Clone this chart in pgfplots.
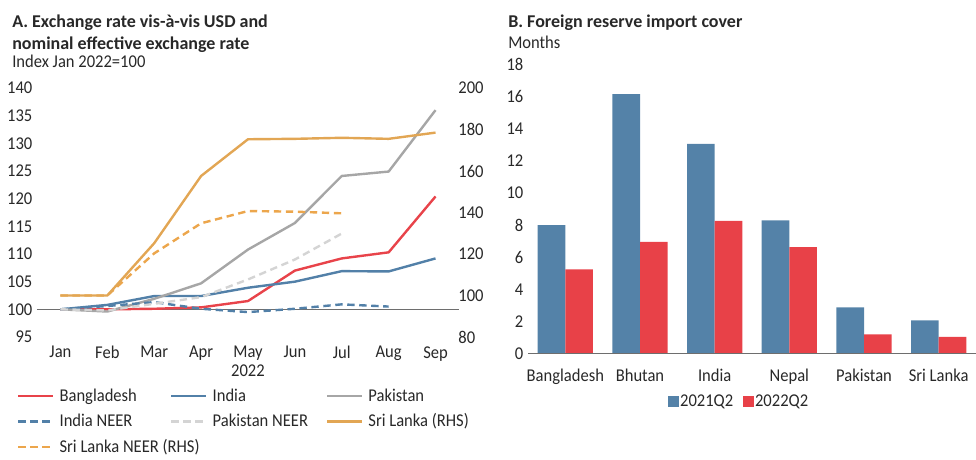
\documentclass[border=0pt]{standalone}
\usepackage{fontspec}
\setmainfont{Carlito}[FakeStretch=0.92]
\newfontfamily\titlefont{Carlito}
\usepackage{pgfplots}
\pgfplotsset{compat=1.18}

\definecolor{txt}{RGB}{40,40,40}
\definecolor{axgray}{RGB}{110,110,110}
\definecolor{bdred}{RGB}{232,67,74}
\definecolor{inblue}{RGB}{82,128,168}
\definecolor{pkgray}{RGB}{166,166,166}
\definecolor{pkneer}{RGB}{212,212,212}
\definecolor{slorange}{RGB}{226,166,84}
\definecolor{slneer}{RGB}{236,166,76}
\definecolor{barblue}{RGB}{84,130,168}
\definecolor{barred}{RGB}{232,65,72}

\newcommand\tk{\fontsize{13.5pt}{15pt}\selectfont}
\newcommand\ttl{\titlefont\fontsize{13.5pt}{15pt}\selectfont\bfseries}

\pgfplotsset{
  panel/.style={
    scale only axis,
    anchor=south west,
    axis line style={draw=none},
    major tick length=0pt,
    tick label style={font=\tk, text=txt},
    label style={font=\tk, text=txt},
    xticklabel style={yshift=-3.5pt},
    /pgf/number format/assume math mode=true,
  },
  ln/.style={line width=1.8pt, line join=round},
  dsh/.style={line width=1.8pt, dash pattern=on 5.5pt off 3.5pt},
}

\begin{document}
\begin{tikzpicture}
\path[use as bounding box] (0,0) rectangle (732pt,345pt);

% panel A titles
\node[anchor=base west, font=\ttl, text=txt, inner sep=0pt] at (9pt,324pt) {A. Exchange rate vis-à-vis USD and};
\node[anchor=base west, font=\ttl, text=txt, inner sep=0pt] at (9pt,307.5pt) {nominal effective exchange rate};
\node[anchor=base west, font=\tk, text=txt, inner sep=0pt] at (9pt,294pt) {Index Jan 2022=100};

% panel B titles
\node[anchor=base west, font=\ttl, text=txt, inner sep=0pt] at (381pt,324.5pt) {B. Foreign reserve import cover};
\node[anchor=base west, font=\tk, text=txt, inner sep=0pt] at (381pt,308.25pt) {Months};

% panel A, left scale
\begin{axis}[
  panel,
  at={(27.75pt,92.25pt)},
  width=316.5pt, height=186.75pt,
  xmin=-0.5, xmax=8.5, ymin=95, ymax=140,
  xtick={0,...,8},
  xticklabels={Jan,Feb,Mar,Apr,May,Jun,Jul,Aug,Sep},
  ytick={95,100,...,140},
  xlabel={2022},
  xlabel style={yshift=4pt},
  legend columns=3,
  legend cell align=left,
  legend style={at={(-0.057,-0.19)}, anchor=north west, draw=none, fill=none,
    font=\tk, text=txt, row sep=6pt, column sep=0pt,
    nodes={inner sep=1pt}},
  legend image code/.code={\draw[#1] (0pt,0pt) -- (26pt,0pt);},
  /tikz/every odd column/.append style={column sep=3pt},
]
\draw[axgray, line width=0.8pt] (axis cs:-0.5,100) -- (axis cs:8.5,100);
\addplot[ln, bdred] coordinates {(0,100)(1,100.0)(2,100.1)(3,100.35)(4,101.5)(5,107.0)(6,109.2)(7,110.3)(8,120.4)};
\addlegendentry{\makebox[82pt][l]{Bangladesh}}
\addplot[ln, inblue] coordinates {(0,100)(1,100.8)(2,102.4)(3,102.4)(4,103.9)(5,105.0)(6,106.9)(7,106.85)(8,109.2)};
\addlegendentry{\makebox[84pt][l]{India}}
\addplot[ln, pkgray] coordinates {(0,100)(1,99.6)(2,101.9)(3,104.7)(4,110.8)(5,115.6)(6,124.1)(7,124.9)(8,136.0)};
\addlegendentry{Pakistan}
\addplot[dsh, inblue] coordinates {(0,100)(1,100.6)(2,101.3)(3,100.1)(4,99.5)(5,100.1)(6,100.9)(7,100.5)};
\addlegendentry{\makebox[82pt][l]{India NEER}}
\addplot[dsh, pkneer] coordinates {(0,100)(1,99.8)(2,101.0)(3,102.2)(4,105.4)(5,109.0)(6,113.7)};
\addlegendentry{\makebox[84pt][l]{Pakistan NEER}}
\addlegendimage{ln, slorange}
\addlegendentry{Sri Lanka (RHS)}
\addlegendimage{dsh, slneer}
\addlegendentry{\makebox[82pt][l]{Sri Lanka NEER (RHS)}}
\end{axis}

% panel A, right scale
\begin{axis}[
  panel,
  at={(27.75pt,92.25pt)},
  width=316.5pt, height=186.75pt,
  xmin=-0.5, xmax=8.5, ymin=80, ymax=200,
  axis x line=none,
  axis y line*=right,
  ytick={80,100,...,200},
  yticklabel style={anchor=west, xshift=-4pt},
]
\addplot[dsh, slneer] coordinates {(0,100)(1,100)(2,120.3)(3,134.8)(4,140.7)(5,140.4)(6,139.6)};
\addplot[ln, slorange] coordinates {(0,100)(1,100)(2,125.2)(3,157.6)(4,175.3)(5,175.5)(6,176.0)(7,175.5)(8,178.5)};
\end{axis}

% panel B
\begin{axis}[
  panel,
  at={(396pt,79.5pt)},
  width=336pt, height=217.5pt,
  xmin=-0.5, xmax=5.5, ymin=0, ymax=18,
  ytick={0,2,...,18},
  xtick={0,...,5},
  xticklabels={Bangladesh,Bhutan,India,Nepal,Pakistan,Sri Lanka},
  xticklabel style={yshift=-4.5pt},
  ybar, bar width=0.37,
  legend columns=2,
  legend style={at={(0.47,-0.165)}, anchor=center, draw=none, fill=none,
    font=\tk, text=txt, column sep=0pt, nodes={inner sep=1pt}},
  legend image code/.code={\fill[#1] (0pt,-4.2pt) rectangle (8.4pt,4.2pt);},
  /tikz/every even column/.append style={column sep=6pt},
]
\addplot[fill=barblue, draw=none, bar shift=-0.185] coordinates {(0,8.0)(1,16.13)(2,13.04)(3,8.3)(4,2.9)(5,2.09)};
\addlegendentry{2021Q2}
\addplot[fill=barred, draw=none, bar shift=0.185] coordinates {(0,5.26)(1,6.96)(2,8.26)(3,6.63)(4,1.22)(5,1.06)};
\addlegendentry{2022Q2}
\draw[axgray, line width=0.9pt] (axis cs:-0.5,0) -- (axis cs:5.5,0);
\end{axis}
\end{tikzpicture}
\end{document}
